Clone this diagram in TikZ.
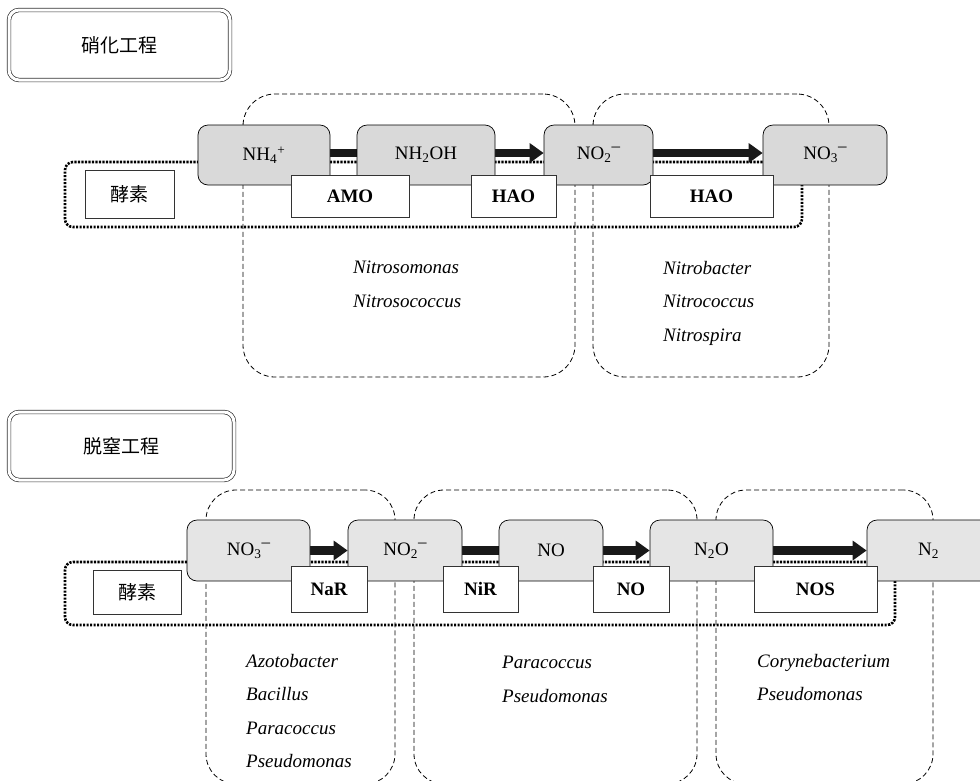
\documentclass[tikz,border=0pt]{standalone}
\usepackage{fontspec}
\setmainfont{Liberation Serif}
\newfontfamily\cjk{Noto Sans CJK JP}
\usetikzlibrary{arrows.meta,backgrounds}
\newcommand{\ionm}{\raisebox{.42em}{\fontsize{17}{17}\selectfont–}}
\tikzset{
    ttlbox/.style={draw=black!80,double,double distance=3pt,line width=.7pt,rounded corners=10pt,align=center,font=\cjk\fontsize{19}{22}\selectfont},
    recgry/.style={draw,rounded corners=10pt,minimum height=60pt,align=center,fill=gray!30,line width=.7pt,font=\fontsize{19}{22}\selectfont},
    reclgt/.style={recgry,fill=gray!20,minimum height=61pt},
    recwht/.style={draw=black!80,fill=white,line width=.7pt,minimum height=42pt,align=center,font=\bfseries\fontsize{19}{22}\selectfont},
    recenz/.style={draw=black!80,fill=white,line width=.7pt,align=center,font=\cjk\fontsize{19}{22}\selectfont},
    rnddsh/.style={draw,dash pattern=on 5pt off 3pt,line width=.8pt,rounded corners=32pt},
    loopdot/.style={draw,line width=2.6pt,dash pattern=on 2.2pt off 1.3pt,rounded corners=8pt},
    arrowfwd/.style={draw=black!90,line width=8.5pt,-{Triangle[length=14pt,width=19pt]}},
    arrowbar/.style={draw=black!90,line width=8.5pt},
    species/.style={align=left,inner sep=0pt,anchor=north west,font=\itshape\fontsize{19}{33.5}\selectfont}
}
\begin{document}
\begin{tikzpicture}[x=1pt,y=-1pt]
    \useasboundingbox (0,0) rectangle (980,780);

    % Nitrification
    \node[ttlbox,minimum width=221pt,minimum height=70pt] (nitrttl) at (119.5,45) {硝化工程};
    \node[recgry,minimum width=132pt] (nh4) at (264,155) {NH\textsubscript{4}\textsuperscript{+}};
    \node[recgry,minimum width=138pt] (nh2oh) at (426,155) {NH\textsubscript{2}OH};
    \node[recgry,minimum width=109pt] (no2a) at (598.5,155) {NO\textsubscript{2}\ionm};
    \node[recgry,minimum width=124pt] (no3a) at (825,155) {NO\textsubscript{3}\ionm};
    \node[recenz,minimum width=89pt,minimum height=48pt] (enza) at (129.5,194) {酵素};
    \node[recwht,minimum width=118pt] (amo) at (350,196) {AMO};
    \node[recwht,minimum width=85pt] (haoa) at (513.5,196) {HAO};
    \node[recwht,minimum width=123pt] (haob) at (711.5,196) {HAO};
    \node[species] (nitrosotxt) at (353,261) {Nitrosomonas\\Nitrosococcus};
    \node[species] (nitrobtxt) at (663,261) {Nitrobacter\\Nitrococcus\\Nitrospira};

    % Denitrification
    \node[ttlbox,minimum width=225pt,minimum height=68pt] (denitttl) at (121.5,446) {脱窒工程};
    \node[reclgt,minimum width=123pt] (no3b) at (248.5,550.5) {NO\textsubscript{3}\ionm};
    \node[reclgt,minimum width=114pt] (no2b) at (405,550.5) {NO\textsubscript{2}\ionm};
    \node[reclgt,minimum width=104pt] (nob) at (551,550.5) {NO};
    \node[reclgt,minimum width=123pt] (n2ob) at (711.5,550.5) {N\textsubscript{2}O};
    \node[reclgt,minimum width=123pt] (n2b) at (928.5,550.5) {N\textsubscript{2}};
    \node[recenz,minimum width=88pt,minimum height=44pt] (enzb) at (137,592) {酵素};
    \node[recwht,minimum width=76pt,minimum height=46pt] (nar) at (329,589) {NaR};
    \node[recwht,minimum width=75pt,minimum height=46pt] (nir) at (480.5,589) {NiR};
    \node[recwht,minimum width=76pt,minimum height=46pt] (noe) at (631,589) {NO};
    \node[recwht,minimum width=123pt,minimum height=46pt] (nos) at (815.5,589) {NOS};
    \node[species] (denitatxt) at (246,654) {Azotobacter\\Bacillus\\Paracoccus\\Pseudomonas};
    \node[species] (denitbtxt) at (502,656) {Paracoccus\\Pseudomonas};
    \node[species] (denitctxt) at (757,654) {Corynebacterium\\Pseudomonas};

    \begin{pgfonlayer}{background}
        % bacteria groups
        \node[rnddsh,minimum width=332pt,minimum height=283pt] (nitrosogrp) at (409,235.5) {};
        \node[rnddsh,minimum width=236pt,minimum height=283pt] (nitrobgrp) at (711,235.5) {};
        \node[rnddsh,rounded corners=30pt,minimum width=189pt,minimum height=294pt] (denitagrp) at (300.5,637) {};
        \node[rnddsh,rounded corners=30pt,minimum width=283pt,minimum height=294pt] (denitbgrp) at (555.5,637) {};
        \node[rnddsh,rounded corners=30pt,minimum width=217pt,minimum height=294pt] (denitcgrp) at (824.5,637) {};
        % enzyme frames
        \node[loopdot,minimum width=737pt,minimum height=65pt] (nitrloop) at (433.5,194.5) {};
        \node[loopdot,minimum width=830pt,minimum height=63pt] (denitloop) at (480,593.5) {};
        % reactions
        \draw[arrowbar] ([yshift=2pt]nh4.east) -- ([yshift=2pt]nh2oh.west);
        \draw[arrowfwd] ([yshift=2pt]nh2oh.east) -- ([yshift=2pt]no2a.west);
        \draw[arrowfwd] ([yshift=2pt]no2a.east) -- ([yshift=2pt]no3a.west);
        \draw[arrowfwd] (no3b.east) -- (no2b.west);
        \draw[arrowbar] (no2b.east) -- (nob.west);
        \draw[arrowfwd] (nob.east) -- (n2ob.west);
        \draw[arrowfwd] (n2ob.east) -- (n2b.west);
    \end{pgfonlayer}
\end{tikzpicture}
\end{document}
